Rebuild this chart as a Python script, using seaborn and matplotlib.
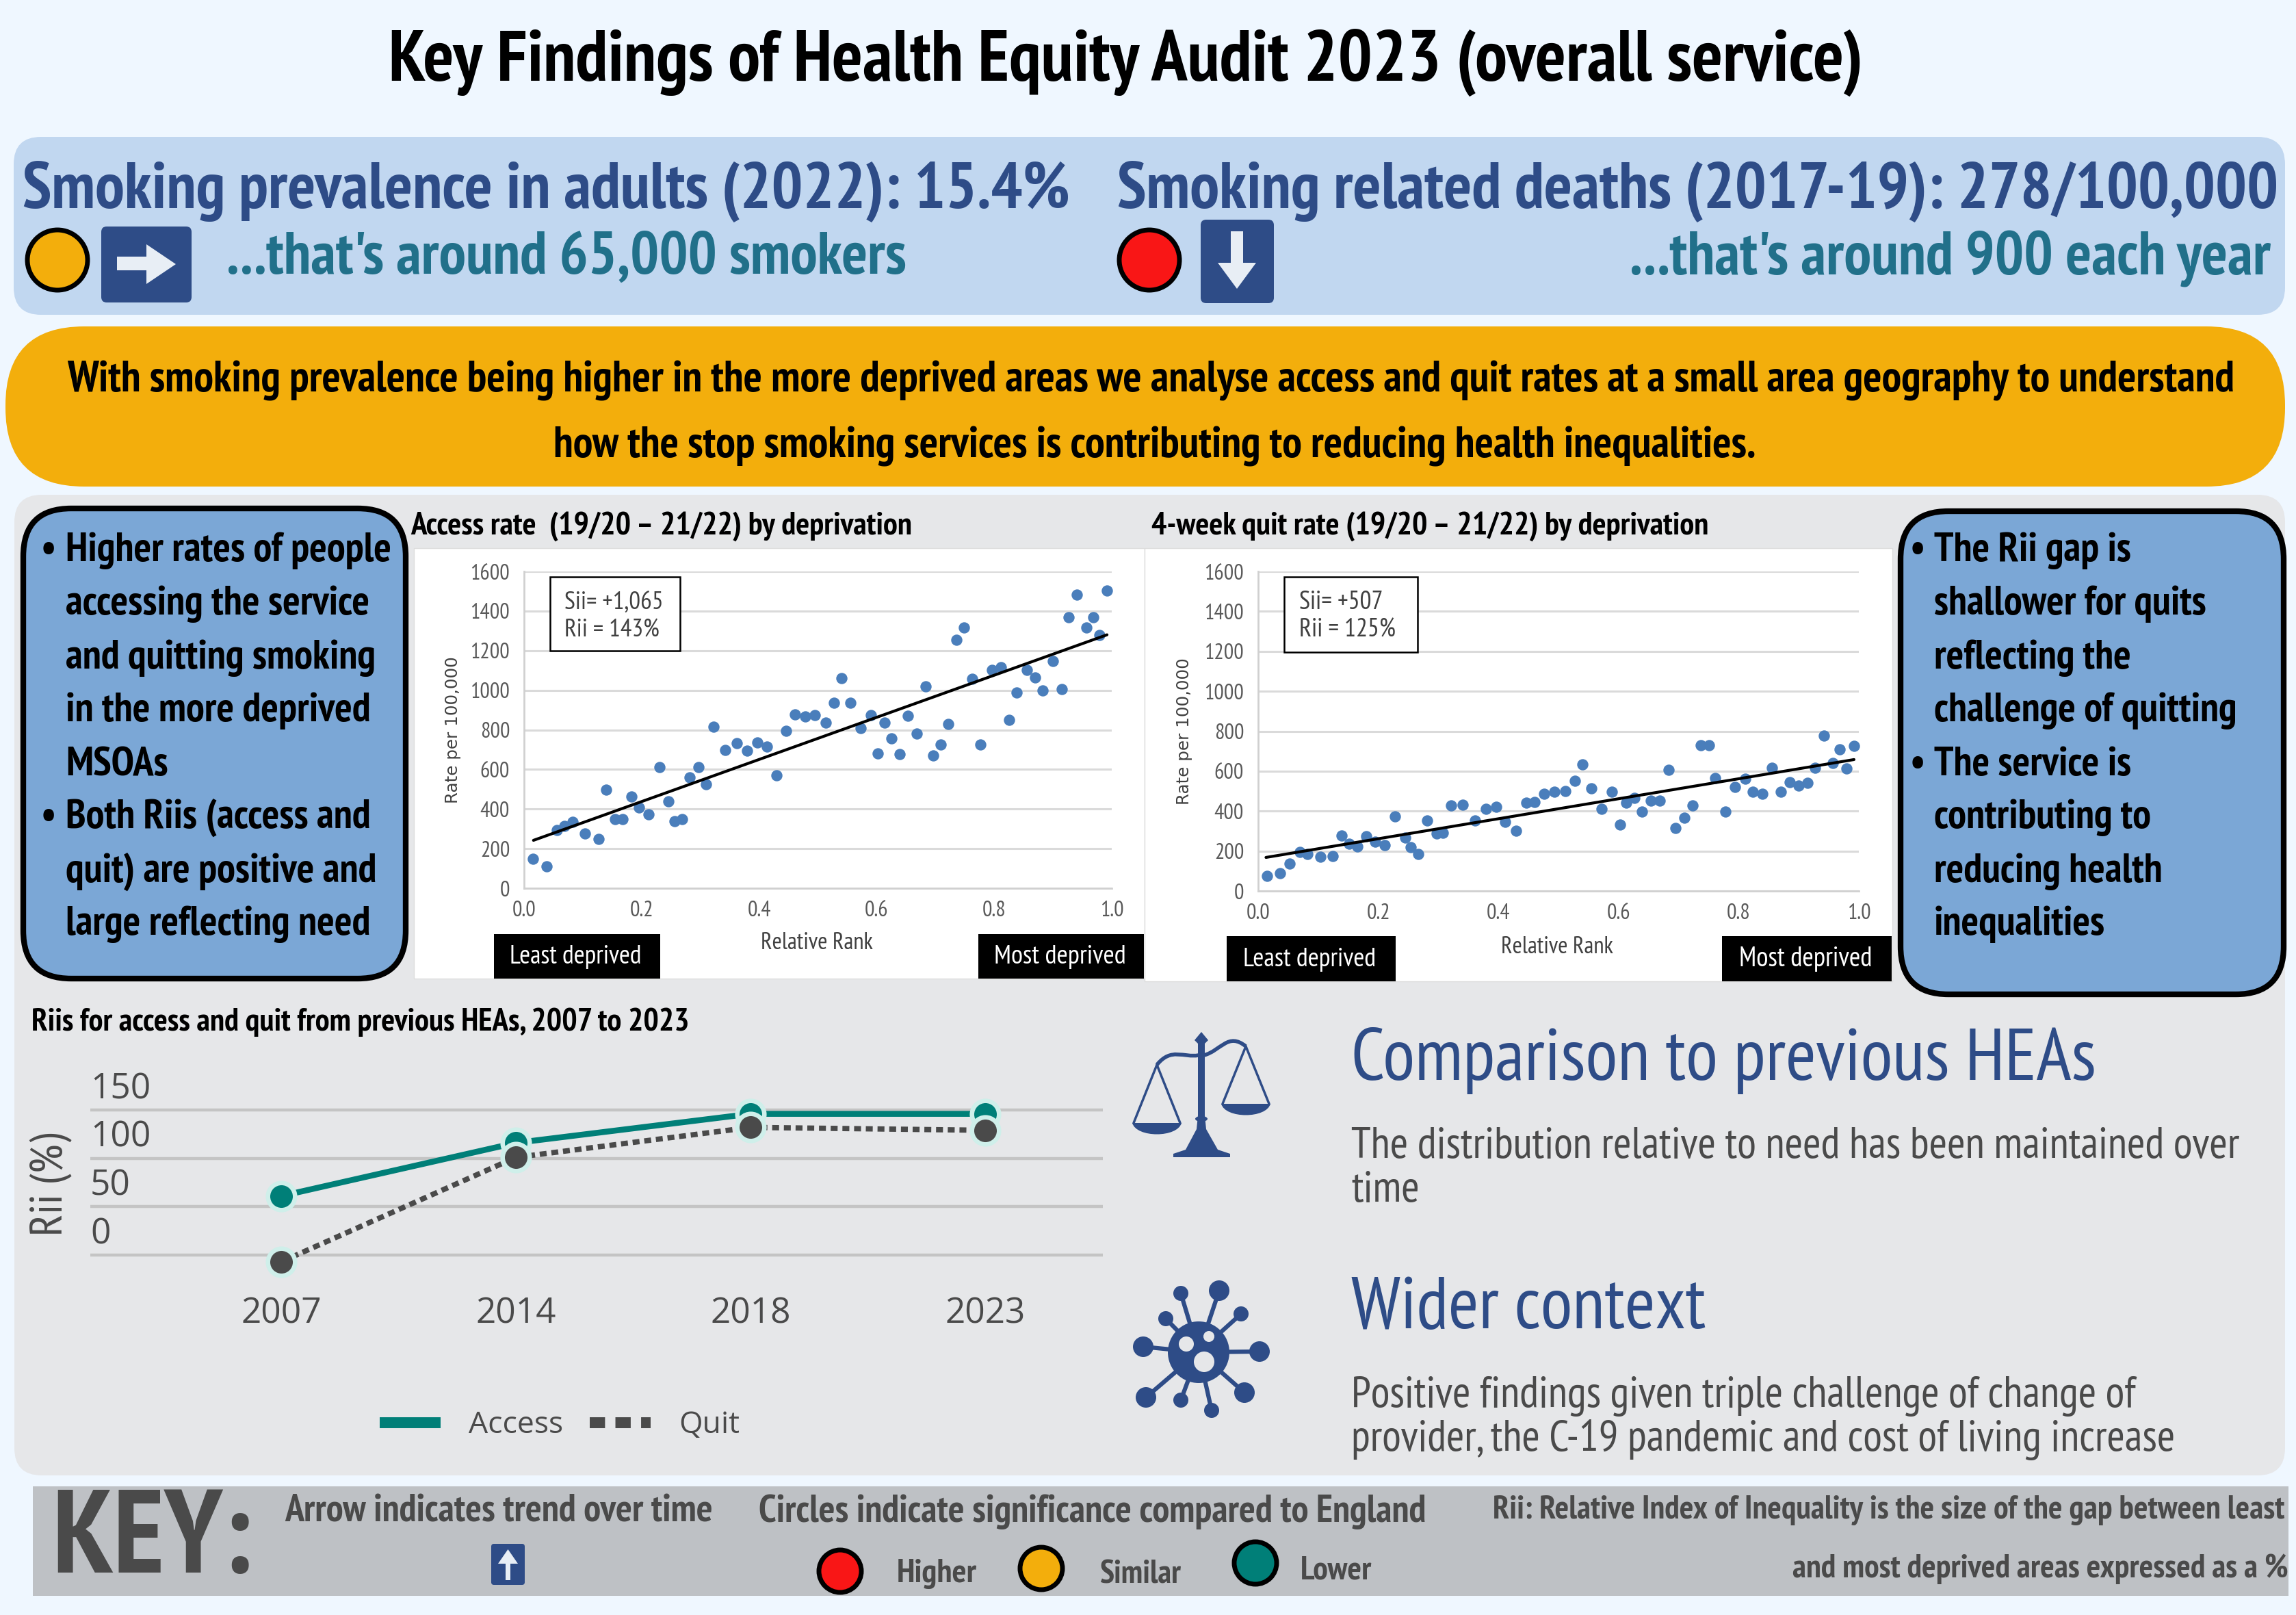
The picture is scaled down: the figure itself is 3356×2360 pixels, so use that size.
import matplotlib
matplotlib.use("Agg")
import matplotlib.pyplot as plt
from matplotlib import font_manager as fm
from matplotlib.patches import FancyBboxPatch, Circle, Ellipse, Polygon, Rectangle, PathPatch
from matplotlib.path import Path
from matplotlib.lines import Line2D
from matplotlib.transforms import ScaledTranslation
import seaborn as sns

# ---------- data ----------
access_rank = [.015,.038,.056,.069,.083,.104,.127,.140,.155,.168,.183,.196,.212,.230,.246,.256,.269,.282,.297,.310,.323,.342,.362,.380,.397,.413,.429,.446,.461,.478,.495,.513,.527,.540,.555,.573,.590,.602,.613,.625,.639,.653,.668,.683,.696,.709,.722,.736,.749,.762,.777,.796,.811,.825,.838,.856,.870,.883,.900,.915,.927,.941,.957,.968,.979,.992]
access_rate = [149,112,295,314,336,276,250,496,349,349,463,409,374,613,440,339,349,561,613,526,816,697,732,694,737,716,570,795,878,868,874,835,936,1061,938,808,874,681,835,756,676,870,781,1020,672,726,830,1256,1316,1057,726,1104,1117,849,987,1104,1065,998,1149,1006,1370,1483,1316,1370,1280,1502]
access_trend_x = [.016,.992]
access_trend_y = [242,1280]

quit_rank = [.015,.037,.052,.070,.082,.104,.124,.139,.152,.165,.180,.195,.211,.228,.245,.254,.267,.281,.297,.308,.321,.341,.361,.379,.396,.411,.429,.446,.460,.476,.493,.511,.527,.540,.555,.572,.589,.602,.613,.626,.639,.654,.668,.683,.695,.710,.723,.737,.750,.761,.778,.794,.811,.824,.839,.855,.870,.885,.900,.915,.927,.942,.957,.968,.979,.992]
quit_rate = [74,88,137,196,184,171,176,278,236,223,275,248,229,372,267,220,185,353,289,292,427,432,353,411,422,347,300,441,446,485,496,499,550,633,513,411,496,333,443,466,397,451,451,608,314,367,427,730,730,565,397,520,561,496,485,615,496,545,529,542,615,777,639,710,612,725]
quit_trend_x = [.013,.992]
quit_trend_y = [168,658]

years = ["2007","2014","2018","2023"]
rii_access = [61,116,146,146]
rii_quit = [-7,101,132,129]

left_lines = ["Higher rates of people","accessing the service","and quitting smoking","in the more deprived","MSOAs","Both Riis (access and","quit) are positive and","large reflecting need"]
right_lines = ["The Rii gap is","shallower for quits","reflecting the","challenge of quitting","The service is","contributing to","reducing health","inequalities"]

# ---------- colours ----------
PAGE="#EFF7FF"; BAND="#C1D7F0"; ORANGE="#F3AE0C"; GREY="#E6E7E9"; KEYG="#BEC1C5"
BOX="#7BA7D6"; NAVY="#2E4C87"; TEALT="#21708A"; TEAL="#007F78"; RED="#F91616"; DARK="#4A4A4A"; DOT="#4A7EBB"

W,H=3356,2360
sns.set_theme(style="white")
avail={f.name for f in fm.fontManager.ttflist}
NARROW=next((n for n in ["PT Sans Narrow","Liberation Sans Narrow","Roboto Condensed","Open Sans Condensed","Noto Sans"] if n in avail),"Liberation Sans")
plt.rcParams['font.family']=[NARROW,'DejaVu Sans']

fig=plt.figure(figsize=(W/100,H/100),dpi=100,facecolor=PAGE)
def layer(z):
    a=fig.add_axes([0,0,1,1],zorder=z); a.set_xlim(0,W); a.set_ylim(H,0); a.axis('off'); return a
bg=layer(0); fg=layer(5)
rend=fig.canvas.get_renderer()

def fitted(t,w,vertical=False):
    bb=t.get_window_extent(rend)
    cur=bb.height if vertical else bb.width
    t.set_fontsize(t.get_fontsize()*w/cur)
    return t.get_fontsize()

def txt(x,y,s,w=None,size=30,color='black',weight='normal',ha='left',va='center',font=None):
    kw=dict(fontsize=size,color=color,fontweight=weight,ha=ha,va=va)
    if font: kw['family']=font
    t=fg.text(x,y+5,s,**kw)
    if w: fitted(t,w)
    return t

def rbox(a,x0,y0,x1,y1,r,fc,ec='none',lw=0,z=1):
    a.add_patch(FancyBboxPatch((x0+r,y0+r),x1-x0-2*r,y1-y0-2*r,boxstyle=f"round,pad={r},rounding_size={r}",fc=fc,ec=ec,lw=lw,zorder=z))

# panels
rbox(bg,20,200,3340,460,40,BAND)
rbox(bg,8,477,3340,711,115,ORANGE)
rbox(bg,21,723,3340,2156,40,GREY)
bg.add_patch(Rectangle((48,2172),3297,160,fc=KEYG,ec='none'))
bg.add_patch(Rectangle((605,801),1068,629,fc='white',ec='#DDDDDD',lw=1,zorder=2))
bg.add_patch(Rectangle((1673,801),1093,633,fc='white',ec='#DDDDDD',lw=1,zorder=2))

# header text
txt(1646,86,"Key Findings of Health Equity Audit 2023 (overall service)",2153,weight='bold',ha='center')
txt(33,275,"Smoking prevalence in adults (2022): 15.4%",1530,color=NAVY,weight='bold')
txt(1633,275,"Smoking related deaths (2017-19): 278/100,000",1695,color=NAVY,weight='bold')
txt(331,373,"...that's around 65,000 smokers",992,color=TEALT,weight='bold')
txt(2382,373,"...that's around 900 each year",935,color=TEALT,weight='bold')
txt(98,552,"With smoking prevalence being higher in the more deprived areas we analyse access and quit rates at a small area geography to understand",3161,weight='bold')
txt(809,647,"how the stop smoking services is contributing to reducing health inequalities.",1753,weight='bold')

def circ(x,y,r,c,lw=5):
    fg.add_patch(Circle((x,y),r,fc=c,ec='black',lw=lw,zorder=3))
circ(84,380,44,ORANGE); circ(1680,380,44,RED)
rbox(fg,148,331,280,442,8,NAVY,z=3)
fg.add_patch(Polygon([(171,375),(214,375),(214,357),(257,386),(214,415),(214,395),(171,395)],fc='#E8EEF5',ec='none',zorder=4))
rbox(fg,1755,321,1862,443,8,NAVY,z=3)
fg.add_patch(Polygon([(1799,338),(1817,338),(1817,384),(1836,384),(1808,422),(1780,384),(1799,384)],fc='#E8EEF5',ec='none',zorder=4))

# side boxes
rbox(bg,34,743,593,1430,70,BOX,ec='black',lw=6,z=3)
rbox(bg,2778,747,3338,1453,70,BOX,ec='black',lw=6,z=3)
ys=[800,878,957,1034,1113,1190,1269,1346]
t=txt(96,ys[0],left_lines[0],475,weight='bold'); ls=t.get_fontsize()
for y,s in zip(ys[1:],left_lines[1:]): txt(96,y,s,size=ls,weight='bold')
t=txt(2827,ys[3],right_lines[3],441,weight='bold'); rs=t.get_fontsize()
for i,(y,s) in enumerate(zip(ys,right_lines)):
    if i!=3: txt(2827,y,s,size=rs,weight='bold')
txt(71,ys[0],"•",size=ls,weight='bold',ha='center'); txt(71,ys[5],"•",size=ls,weight='bold',ha='center')
txt(2803,ys[0],"•",size=rs,weight='bold',ha='center'); txt(2803,ys[4],"•",size=rs,weight='bold',ha='center')

# scatter charts
def axes_px(l,t,r,b):
    a=fig.add_axes([l/W,1-b/H,(r-l)/W,(b-t)/H],zorder=3); a.patch.set_alpha(0); return a

def scatter_panel(box,rank,rate,tx,ty,ylab_x):
    a=axes_px(*box)
    sns.scatterplot(x=rank,y=rate,ax=a,color=DOT,s=140,linewidth=0,zorder=3,clip_on=False)
    sns.lineplot(x=tx,y=ty,ax=a,color='black',linewidth=3,zorder=4,errorbar=None)
    a.set_xlim(0,1); a.set_ylim(0,1600)
    a.set_xticks([0,.2,.4,.6,.8,1.0]); a.set_yticks(range(0,1601,200))
    a.set_xticklabels(["0.0","0.2","0.4","0.6","0.8","1.0"])
    a.grid(axis='y',color='#DADADA',lw=2.2); a.grid(axis='x',visible=False); a.set_axisbelow(True)
    for s in ['top','right']: a.spines[s].set_visible(False)
    for s in ['left','bottom']: a.spines[s].set_color('#D0D0D0'); a.spines[s].set_linewidth(2)
    a.tick_params(axis='both',length=0,labelsize=23,labelcolor='#595959')
    a.tick_params(axis='y',pad=15); a.tick_params(axis='x',pad=13)
    yl=a.set_ylabel("Rate per 100,000",family='DejaVu Sans',fontsize=17.7,color='#404040')
    a.yaxis.set_label_coords((ylab_x-box[0])/(box[2]-box[0]),0.5)
    return a

scatter_panel((766,835,1625,1298),access_rank,access_rate,access_trend_x,access_trend_y,674)
scatter_panel((1839,835,2717,1302),quit_rank,quit_rate,quit_trend_x,quit_trend_y,1743)

txt(600,764,"Access rate  (19/20 – 21/22) by deprivation",732,weight='bold')
txt(1683,764,"4-week quit rate (19/20 – 21/22) by deprivation",813,weight='bold')

def statbox(x0,y0,x1,y1,tx,l1,l2,w1,yt):
    fg.add_patch(Rectangle((x0,y0),x1-x0,y1-y0,fc='white',ec='black',lw=1.8,zorder=2))
    t=txt(tx,yt[0],l1,w1,color='#404040'); txt(tx,yt[1],l2,size=t.get_fontsize(),color='#404040')
statbox(804,843,994,951,825,"Sii= +1,065","Rii = 143%",145,(875,915))
statbox(1877,843,2072,953,1899,"Sii= +507","Rii = 125%",123,(875,916))

def tag(x0,y0,x1,y1,s,w):
    fg.add_patch(Rectangle((x0,y0),x1-x0,y1-y0,fc='black',ec='none',zorder=2))
    txt((x0+x1)/2-2,(y0+y1)/2-4,s,w,color='white',ha='center')
tag(722,1365,965,1430,"Least deprived",192); tag(1430,1365,1672,1430,"Most deprived",192)
tag(1793,1368,2040,1434,"Least deprived",194); tag(2517,1368,2765,1434,"Most deprived",194)
txt(1194,1373,"Relative Rank",163,color='#404040',ha='center')
txt(2276,1379,"Relative Rank",163,color='#404040',ha='center')

# line chart
txt(46,1489,"Riis for access and quit from previous HEAs, 2007 to 2023",962,weight='bold')
L,R,T,B=132,1612,1560,1870
a=axes_px(L,T,R,B)
sc=212/150
mk=dict(marker='o',markersize=28.5,markeredgewidth=4.7,markeredgecolor='#CFEFEA',clip_on=False,errorbar=None,sort=False)
sns.lineplot(x=years,y=rii_access,ax=a,color=TEAL,linewidth=6.2,zorder=3,**mk)
sns.lineplot(x=years,y=rii_quit,ax=a,color=DARK,linewidth=5.6,linestyle=(0,(1.3,0.9)),zorder=4,**mk)
a.set_xlim(-0.813,3.5); a.set_ylim((1834-B)/sc,(1834-T)/sc)
a.set_yticks([0,50,100,150])
a.grid(axis='y',color='#C4C4C4',lw=3.2); a.grid(axis='x',visible=False); a.set_axisbelow(True)
sns.despine(ax=a,left=True,bottom=True)
a.tick_params(axis='both',length=0,labelsize=37,labelcolor=DARK)
a.tick_params(axis='x',pad=18); a.tick_params(axis='y',pad=0)
for lab in a.get_xticklabels()+a.get_yticklabels():
    lab.set_family('Open Sans')
off=ScaledTranslation(0,5/100,fig.dpi_scale_trans)
for lab in a.get_yticklabels():
    lab.set_ha('left'); lab.set_va('bottom'); lab.set_transform(lab.get_transform()+off)
a.set_ylabel("")
t=fg.text(74,1731,"Rii (%)",rotation=90,ha='center',va='center',color=DARK,fontsize=30)
fitted(t,150,vertical=True)
handles=[Line2D([],[],color=TEAL,lw=11.5,solid_capstyle='butt'),
         Line2D([],[],color=DARK,lw=11.5,linestyle=(0,(1.4,0.95)),dash_capstyle='butt')]
leg=fig.legend(handles,["Access","Quit"],ncol=2,frameon=False,loc='center',bbox_to_anchor=(818/W,1-2083/H),
           prop=fm.FontProperties(family='Open Sans',size=32),labelcolor=DARK,handlelength=2.0,handletextpad=0.93,columnspacing=0.86)
leg.set_zorder(6)

# right hand notes
txt(1975,1545,"Comparison to previous HEAs",1087,color=NAVY)
t=txt(1975,1671,"The distribution relative to need has been maintained over",1295,color=DARK)
txt(1975,1735,"time",size=t.get_fontsize(),color=DARK)
txt(1975,1909,"Wider context",516,color=NAVY)
t=txt(1975,2035,"Positive findings given triple challenge of change of",1143,color=DARK)
txt(1975,2099,"provider, the C-19 pandemic and cost of living increase",1201,color=DARK)

# scales icon
def line(x0,y0,x1,y1,lw,c=NAVY):
    fg.plot([x0,x1],[y0,y1],color=c,lw=lw,solid_capstyle='round',zorder=3)
fg.add_patch(Polygon([(1751,1525),(1746,1520),(1756,1508),(1766,1520),(1761,1525),(1761,1630),(1763,1650),(1780,1680),(1798,1686),(1798,1691),(1715,1691),(1715,1686),(1733,1680),(1749,1650),(1751,1630)],fc=NAVY,ec='none',zorder=3))
fg.add_patch(Ellipse((1756,1635),18,8,fc=NAVY,ec='none',zorder=3))
fg.add_patch(PathPatch(Path([(1691,1556),(1712,1530),(1730,1546),(1752,1542)],[Path.MOVETO,Path.CURVE4,Path.CURVE4,Path.CURVE4]),fc='none',ec=NAVY,lw=4,zorder=3))
fg.add_patch(PathPatch(Path([(1760,1542),(1785,1535),(1795,1508),(1821,1529)],[Path.MOVETO,Path.CURVE4,Path.CURVE4,Path.CURVE4]),fc='none',ec=NAVY,lw=4,zorder=3))
for ax_,ay,py in [(1691,1556,1641),(1821,1529,1613)]:
    line(ax_,ay,ax_-34,py,2.5); line(ax_,ay,ax_+34,py,2.5)
    fg.add_patch(PathPatch(Path([(ax_-36,py),(ax_-30,py+22),(ax_+30,py+22),(ax_+36,py),(ax_-36,py)],[Path.MOVETO,Path.CURVE4,Path.CURVE4,Path.CURVE4,Path.LINETO]),fc=NAVY,ec='none',zorder=3))

# virus icon
cx,cy=1752,1976
for x,y,r in [(1671,1968,15),(1704,1927,11),(1726,1890,11),(1782,1886,15),(1814,1920,11),(1841,1975,15),(1819,2035,15),(1771,2061,11),(1726,2046,11),(1675,2042,15)]:
    line(cx,cy,x,y,4.5)
    fg.add_patch(Circle((x,y),r,fc=NAVY,ec='none',zorder=3))
fg.add_patch(Circle((cx,cy),45,fc=NAVY,ec='none',zorder=3))
for x,y,r in [(1734,1964,11),(1767,1953,8),(1760,1990,15)]:
    fg.add_patch(Circle((x,y),r,fc=GREY,ec='none',zorder=4))

# key
txt(76,2249,"KEY:",293,color=DARK,weight='bold')
txt(416,2204,"Arrow indicates trend over time",625,color=DARK,weight='bold')
txt(1109,2204,"Circles indicate significance compared to England",975,color=DARK,weight='bold')
txt(2182,2202,"Rii: Relative Index of Inequality is the size of the gap between least",1153,color=DARK,weight='bold')
txt(2620,2288,"and most deprived areas expressed as a %",723,color=DARK,weight='bold')
txt(1311,2295,"Higher",117,color=DARK,weight='bold')
txt(1607,2297,"Similar",119,color=DARK,weight='bold')
txt(1901,2290,"Lower",104,color=DARK,weight='bold')
circ(1228,2296,31,RED); circ(1522,2292,31,ORANGE); circ(1835,2284,31,TEAL)
rbox(fg,718,2256,767,2316,4,NAVY,z=3)
fg.add_patch(Polygon([(739,2309),(746,2309),(746,2285),(757,2285),(742.5,2264),(728,2285),(739,2285)],fc='#E8EEF5',ec='none',zorder=4))

fig.savefig("out.png",dpi=100,facecolor=PAGE)
